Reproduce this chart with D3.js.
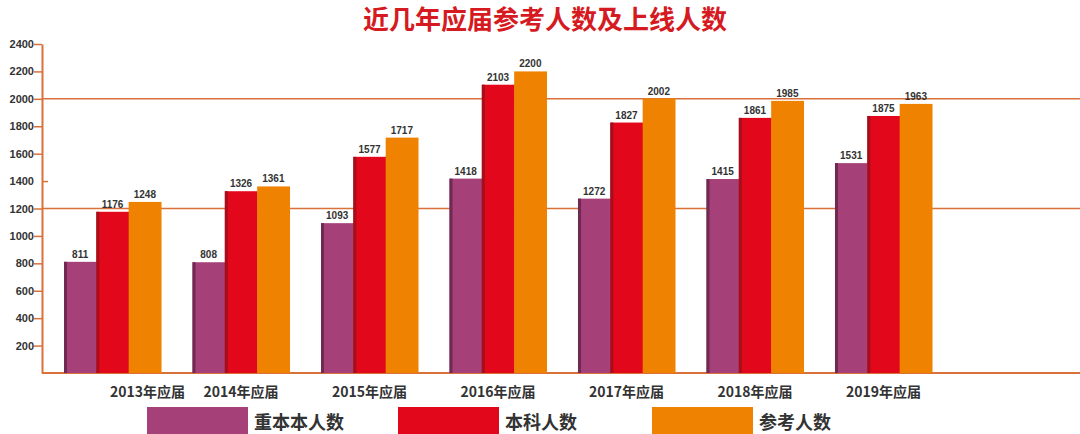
<!DOCTYPE html>
<html><head><meta charset="utf-8">
<script src="https://cdn.jsdelivr.net/npm/d3@7"></script>
<style>body{margin:0;background:#fff}text{font-family:"Liberation Sans",Arial,sans-serif}</style>
</head><body><div id="chart"></div>
<script>
const categories = ["2013年应届","2014年应届","2015年应届","2016年应届","2017年应届","2018年应届","2019年应届"];
const zhongben = [811,808,1093,1418,1272,1415,1531];
const benke = [1176,1326,1577,2103,1827,1861,1875];
const cankao = [1248,1361,1717,2200,2002,1985,1963];
const seriesNames = ["重本本人数","本科人数","参考人数"];
const yTicks = [200,400,600,800,1000,1200,1400,1600,1800,2000,2200,2400];

const w = 1080, h = 434;
const colors = ["#a64079","#e2071b","#ef8200"];
const dark = ["#6e2a50","#a3101c","#ef8200"];
const lineColor = "#d9713a";

const svg = d3.select("#chart").append("svg").attr("width", w).attr("height", h);

const yScale = d3.scaleLinear().domain([0,2400]).range([373,44]);
const xScale = d3.scaleBand().domain(categories).range([0,868]).paddingInner(0.245).paddingOuter(0);
const inner = d3.scaleBand().domain([0,1,2]).range([0, xScale.bandwidth()]);
const gx = 64;

// grid lines
[1200,2000].forEach(v => {
  svg.append("line").attr("x1",42).attr("x2",w).attr("y1",yScale(v)).attr("y2",yScale(v))
    .attr("stroke",lineColor).attr("stroke-width",1.5);
});

const yAxis = d3.axisLeft(yScale).tickValues(yTicks).tickSize(8).tickSizeOuter(0).tickFormat(d3.format("d"));
const ya = svg.append("g").attr("transform","translate(42,0)").call(yAxis);
ya.select(".domain").attr("stroke",lineColor).attr("stroke-width",2);
ya.selectAll(".tick line").attr("stroke",lineColor).attr("stroke-width",1.5);
ya.selectAll(".tick").filter(d => d===1400).select("line").attr("x2",6);
ya.selectAll(".tick text").attr("x",-8).attr("font-size",11).attr("font-weight","bold").attr("fill","#333");
svg.append("line").attr("x1",42).attr("x2",w).attr("y1",373).attr("y2",373).attr("stroke",lineColor).attr("stroke-width",2);

const series = [zhongben, benke, cankao];
series.forEach((vals, s) => {
  const g = svg.append("g");
  categories.forEach((c, i) => {
    const x = gx + xScale(c) + inner(s);
    const y = yScale(vals[i]);
    g.append("rect").attr("x",x).attr("y",y).attr("width",inner.bandwidth()+0.5).attr("height",373-y).attr("fill",colors[s]);
    if (s < 2) g.append("rect").attr("x",x).attr("y",y).attr("width",3).attr("height",373-y).attr("fill",dark[s]);
    g.append("text").attr("x",x+inner.bandwidth()/2).attr("y",y-4).attr("text-anchor","middle")
      .attr("font-size",10).attr("font-weight","bold").attr("fill","#333").text(vals[i]);
  });
});

categories.forEach((c, i) => {
  svg.append("text").attr("x",gx + xScale(c) + xScale.bandwidth()/2 + (i === 0 ? 35 : 0)).attr("y",397)
    .attr("text-anchor","middle").attr("font-size",14).attr("font-weight","bold").attr("fill","#333")
    .style("font-family","'Noto Sans CJK SC',sans-serif").text(c);
});

// legend
const legX = [147,398,652];
seriesNames.forEach((n, i) => {
  svg.append("rect").attr("x",legX[i]).attr("y",407).attr("width",101).attr("height",27).attr("fill",colors[i]);
  svg.append("text").attr("x",legX[i]+107).attr("y",429).attr("font-size",18).attr("font-weight","bold")
    .attr("fill","#333").style("font-family","'Noto Sans CJK SC',sans-serif").text(n);
});

svg.append("text").attr("x",545).attr("y",29).attr("text-anchor","middle").attr("font-size",26)
  .attr("font-weight","bold").attr("fill","#d51a22").style("font-family","'Noto Sans CJK SC',sans-serif")
  .text("近几年应届参考人数及上线人数");
</script></body></html>
